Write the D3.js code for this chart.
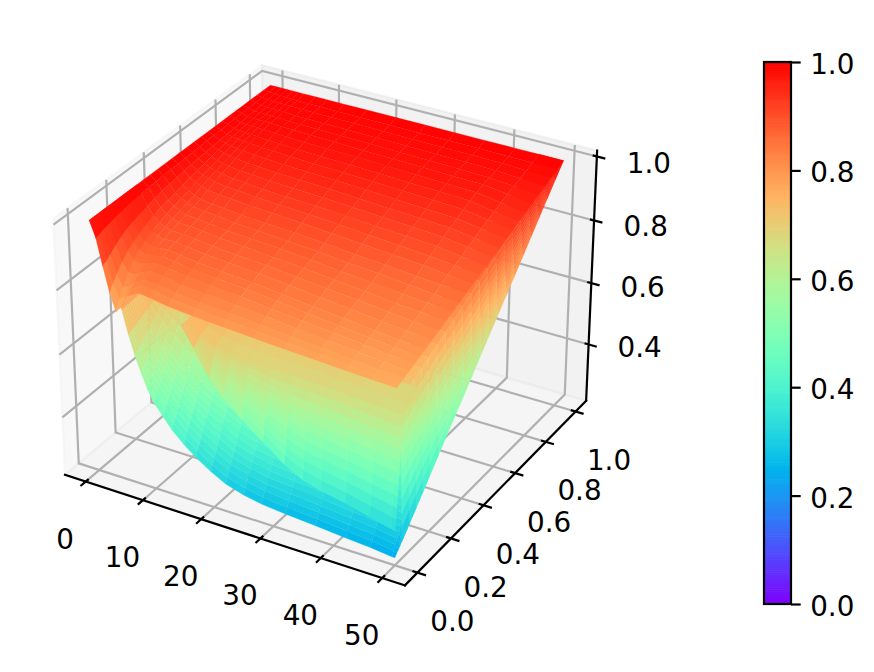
<!DOCTYPE html>
<html><head><meta charset="utf-8">
<script src="https://cdn.jsdelivr.net/npm/d3@7"></script>
<style>html,body{margin:0;padding:0;background:#fff}svg{display:block}text{font-family:"DejaVu Sans";font-size:27.8px;fill:#000}</style>
</head><body><svg id="c" width="874" height="672"></svg>
<script>
const xTicks=[0,10,20,30,40,50];
const yTicks=[0,0.2,0.4,0.6,0.8,1];
const zTicks=[0.4,0.6,0.8,1];
const cbarTicks=[0,0.2,0.4,0.6,0.8,1];
const xLim=[-3.646,53.646], yLim=[-0.0729,1.0729], zLim=[0.213,1.018];
const rainbowStops=["#8000ff","#6628fe","#4d4ffc","#3374f8","#1a96f3","#00b4ec","#1acee3","#33e3d9","#4df3ce","#66fcc2","#80ffb4","#99fca6","#b3f396","#cce385","#e6ce74","#ffb462","#ff964f","#ff743b","#ff4f28","#ff2814","#ff0000"];

// upper sheet
const sheetX=[0,1,2,3,4,5,6,8,10,13,17,22,27,32,37,42,46,50];
const sheetY=[0,.02,.04,.07,.1,.13,.16,.2,.24,.28,.32,.36,.4,.44,.48,.52,.56,.6,.64,.68,.72,.76,.8,.84,.88,.92,.96,1];
const sheetZ=[
[1,.95,.87,.795,.74,.765,.80,.82,.815,.805,.798,.792,.786,.78,.775,.77,.766,.763],
[1,.955,.88,.815,.77,.785,.812,.833,.828,.818,.811,.804,.797,.789,.784,.777,.772,.768],
[1,.96,.89,.835,.80,.805,.824,.842,.837,.828,.821,.814,.807,.798,.791,.783,.777,.772],
[1,.965,.905,.86,.83,.83,.84,.854,.849,.84,.833,.827,.818,.808,.801,.792,.785,.78],
[1,.97,.918,.878,.855,.85,.855,.864,.86,.851,.844,.837,.827,.817,.81,.80,.792,.787],
[1,.974,.928,.892,.872,.866,.867,.872,.868,.859,.853,.846,.837,.826,.817,.808,.80,.794],
[1,.977,.935,.903,.885,.878,.876,.879,.875,.866,.86,.853,.844,.833,.825,.815,.807,.801],
[1,.98,.943,.915,.898,.89,.885,.886,.882,.874,.868,.862,.853,.842,.834,.824,.817,.81],
[1,.982,.95,.924,.908,.90,.893,.892,.888,.881,.875,.869,.86,.85,.843,.833,.826,.82],
[1,.984,.955,.932,.917,.908,.90,.898,.895,.888,.883,.876,.868,.859,.851,.841,.836,.829],
[1,.985,.96,.938,.924,.915,.907,.904,.90,.893,.889,.884,.875,.866,.859,.851,.845,.839],
[1,.986,.964,.943,.93,.922,.914,.91,.907,.90,.896,.89,.883,.874,.868,.86,.853,.848],
[1,.987,.968,.948,.936,.928,.92,.915,.912,.906,.902,.897,.891,.882,.876,.868,.863,.858],
[1,.988,.971,.955,.945,.938,.932,.927,.924,.919,.915,.91,.903,.896,.89,.883,.875,.867],
[1,.989,.974,.96,.951,.946,.94,.934,.932,.927,.923,.919,.913,.906,.90,.893,.885,.877],
[1,.99,.976,.965,.957,.952,.948,.942,.939,.934,.931,.927,.922,.915,.911,.905,.895,.886],
[1,.991,.978,.97,.963,.958,.955,.95,.948,.943,.94,.936,.931,.925,.921,.915,.905,.896],
[1,.992,.98,.974,.969,.965,.962,.957,.955,.951,.948,.945,.94,.935,.931,.926,.915,.905],
[1,.993,.982,.978,.974,.971,.969,.965,.963,.96,.957,.954,.95,.945,.941,.937,.926,.915],
[1,.994,.984,.981,.979,.977,.976,.972,.971,.968,.965,.962,.959,.955,.951,.947,.936,.924],
[1,.995,.986,.984,.983,.982,.981,.978,.976,.973,.971,.969,.966,.962,.96,.957,.944,.934],
[1,.996,.988,.987,.987,.986,.985,.983,.982,.979,.978,.976,.974,.97,.968,.965,.954,.943],
[1,.996,.99,.99,.989,.989,.989,.987,.986,.984,.983,.98,.978,.976,.974,.972,.963,.953],
[1,.997,.992,.992,.991,.99,.99,.988,.987,.986,.985,.984,.982,.98,.978,.976,.97,.962],
[1,.998,.994,.993,.992,.992,.992,.989,.989,.988,.987,.986,.985,.984,.983,.981,.977,.972],
[1,.998,.996,.995,.994,.994,.994,.993,.992,.991,.991,.99,.989,.988,.988,.987,.984,.981],
[1,.999,.998,.997,.996,.995,.994,.994,.994,.993,.993,.993,.992,.992,.992,.991,.991,.991],
[1,1,1,1,1,1,1,1,1,1,1,1,1,1,1,1,1,1]
];

// middle layer: the rise along y = 0 that ends under the sheet
const midX=[15,17,19.5,22,25,28.5,32,35,38,42,46,49.5,50];
const midY=[0,.004,.008,.012,.016,.02,.024,.028,.032,.036,.04,.08,.15];
const midZ=[
[.76,.70,.62,.57,.52,.47,.42,.39,.375,.36,.34,.325,.32],
[.76,.702,.628,.582,.537,.491,.446,.419,.405,.391,.373,.359,.354],
[.76,.704,.636,.594,.553,.512,.472,.448,.435,.422,.405,.392,.388],
[.76,.706,.644,.606,.57,.533,.498,.476,.465,.453,.438,.426,.422],
[.76,.708,.652,.618,.586,.554,.524,.505,.495,.484,.47,.459,.456],
[.76,.71,.66,.63,.603,.575,.55,.534,.525,.515,.503,.493,.49],
[.76,.712,.668,.642,.619,.596,.576,.563,.555,.546,.535,.526,.524],
[.76,.714,.676,.654,.636,.617,.602,.592,.585,.577,.568,.56,.558],
[.76,.716,.684,.666,.652,.638,.628,.62,.615,.608,.60,.593,.592],
[.76,.718,.692,.678,.669,.659,.654,.649,.645,.639,.633,.627,.626],
[.76,.72,.70,.69,.685,.68,.68,.678,.675,.67,.665,.66,.66],
[.76,.73,.712,.702,.697,.692,.692,.69,.687,.682,.677,.672,.672],
[.76,.74,.725,.715,.71,.705,.705,.703,.70,.695,.69,.685,.685]
];

// bottom layer along y = 0
const frontX=[0,1,2,3,4,5,6,7,8,9,10,11.5,13,15,17,19.5,22,25,28,32,37,42,46,49.5,50];
const frontY=[0,.01,.02,.03,.04,.05,.06,.07,.08,.09,.1,.12,.14,.16,.18,.2,.25];
const frontZ=[
[1,.96,.91,.855,.80,.752,.68,.62,.57,.525,.49,.455,.42,.385,.355,.325,.30,.283,.272,.265,.258,.25,.245,.237,.237],
[1,.96,.91,.855,.80,.753,.683,.626,.579,.536,.503,.469,.435,.40,.371,.341,.316,.299,.288,.281,.274,.266,.26,.251,.245],
[1,.96,.91,.855,.80,.753,.686,.632,.588,.547,.515,.482,.449,.415,.386,.357,.332,.315,.304,.297,.29,.281,.275,.265,.252],
[1,.96,.91,.855,.80,.754,.689,.638,.597,.558,.528,.496,.464,.43,.402,.373,.348,.331,.32,.313,.306,.297,.29,.279,.26],
[1,.96,.91,.855,.80,.754,.692,.644,.606,.569,.54,.509,.478,.445,.417,.389,.364,.347,.336,.329,.322,.312,.305,.293,.268],
[1,.96,.91,.855,.80,.755,.695,.65,.615,.58,.553,.523,.493,.46,.433,.405,.38,.363,.352,.345,.338,.328,.32,.307,.275],
[1,.96,.91,.855,.80,.755,.698,.656,.624,.591,.565,.536,.507,.475,.448,.421,.396,.379,.368,.361,.354,.343,.335,.321,.283],
[1,.96,.91,.855,.80,.756,.701,.662,.633,.602,.578,.55,.522,.49,.464,.437,.412,.395,.384,.377,.37,.359,.35,.335,.29],
[1,.96,.91,.855,.80,.756,.704,.668,.642,.613,.59,.563,.536,.505,.479,.453,.428,.411,.40,.393,.386,.374,.365,.349,.298],
[1,.96,.91,.855,.80,.757,.707,.674,.651,.624,.603,.577,.551,.52,.495,.469,.444,.427,.416,.409,.402,.39,.38,.363,.306],
[1,.96,.91,.855,.80,.757,.71,.68,.66,.635,.615,.59,.565,.535,.51,.485,.46,.443,.432,.425,.418,.405,.395,.377,.313],
[1,.96,.91,.855,.80,.758,.716,.692,.678,.657,.64,.617,.594,.565,.541,.517,.492,.475,.464,.457,.45,.436,.425,.405,.328],
[1,.96,.91,.855,.80,.759,.722,.704,.696,.679,.665,.644,.623,.595,.572,.549,.524,.507,.496,.489,.482,.467,.455,.433,.344],
[1,.96,.91,.855,.80,.76,.728,.716,.714,.701,.69,.671,.652,.625,.603,.581,.556,.539,.528,.521,.514,.498,.485,.461,.359],
[1,.96,.91,.855,.80,.761,.734,.728,.732,.723,.715,.698,.681,.655,.634,.613,.588,.571,.56,.553,.546,.529,.515,.489,.374],
[1,.96,.91,.855,.80,.762,.74,.74,.75,.745,.74,.725,.71,.685,.665,.645,.62,.603,.592,.585,.578,.56,.545,.517,.39],
[1,.96,.91,.855,.80,.765,.755,.77,.795,.80,.803,.793,.783,.76,.743,.725,.70,.683,.672,.665,.658,.638,.62,.587,.428]
];

// strip along x = 50
const sideX=[46,49.5,49.55,49.6,49.65,49.7,49.75,49.8,49.85,49.9,49.95,50];
const sideY=[.04,.08,.12,.16,.2,.25,.3,.35,.4,.45,.5,.55,.6,.65,.7,.75,.8,.85,.9,.95,1];
const sideZ=[
[.712,.705,.661,.617,.574,.53,.486,.442,.399,.355,.312,.268],
[.724,.718,.676,.634,.592,.55,.508,.466,.424,.382,.34,.298],
[.736,.73,.69,.65,.61,.57,.53,.489,.449,.409,.369,.329],
[.748,.742,.704,.665,.627,.589,.551,.512,.474,.436,.397,.359],
[.76,.754,.718,.681,.645,.608,.572,.535,.499,.462,.426,.39],
[.775,.77,.736,.702,.667,.633,.599,.565,.531,.496,.462,.428],
[.79,.785,.753,.721,.689,.657,.626,.594,.562,.53,.498,.466],
[.805,.80,.77,.741,.711,.682,.652,.622,.593,.563,.534,.504],
[.82,.816,.789,.761,.734,.706,.679,.652,.624,.597,.569,.542],
[.835,.831,.806,.781,.756,.731,.706,.68,.655,.63,.605,.58],
[.85,.847,.824,.801,.779,.756,.733,.71,.687,.665,.642,.619],
[.865,.862,.842,.821,.801,.78,.76,.739,.719,.698,.678,.657],
[.88,.877,.859,.841,.822,.804,.786,.768,.75,.731,.713,.695],
[.895,.893,.877,.861,.845,.829,.813,.797,.781,.765,.749,.733],
[.91,.908,.894,.881,.867,.853,.84,.826,.812,.799,.785,.771],
[.925,.923,.912,.90,.889,.877,.866,.855,.843,.832,.82,.809],
[.94,.939,.93,.921,.912,.902,.893,.884,.875,.866,.856,.847],
[.955,.954,.947,.94,.934,.927,.92,.913,.906,.90,.893,.886],
[.97,.969,.964,.96,.955,.951,.946,.942,.937,.933,.928,.924],
[.985,.985,.983,.98,.978,.976,.973,.971,.969,.967,.964,.962],
[1,1,1,1,1,1,1,1,1,1,1,1]
];

const svg=d3.select("#c");
const sx=d3.scaleLinear().domain(xLim).range([-1,1]);
const sy=d3.scaleLinear().domain(yLim).range([-1,1]);
const sz=d3.scaleLinear().domain(zLim).range([-1,1]);
const color=d3.scaleLinear().domain(d3.range(21).map(d=>d/20)).range(rainbowStops).clamp(true);
const hx=.5715,hz=.4286,cx=330.2,cy=313.3,k=340.8,LW=2.2;
function view(x,y,z){
  const a=sx(x)*hx,b=sy(y)*hx,c=sz(z)*hz;
  const xv=.866*a+.5*b, yv=-.25*a+.433*b+.866*c, d=.433*a-.75*b+.5*c, f=10/(10-d);
  return {p:[cx+k*xv*f,cy-k*yv*f],d};
}
const P=(x,y,z)=>view(x,y,z).p;
const [x0,x1]=xLim,[y0,y1]=yLim,[z0,z1]=zLim;
const line=d3.line();
const pathOf=pts=>line(pts.map(q=>P(...q)));

const panes=[
 {pts:[[x0,y0,z0],[x0,y1,z0],[x0,y1,z1],[x0,y0,z1]],c:"#f2f2f2"},
 {pts:[[x0,y1,z0],[x1,y1,z0],[x1,y1,z1],[x0,y1,z1]],c:"#e6e6e6"},
 {pts:[[x0,y0,z0],[x1,y0,z0],[x1,y1,z0],[x0,y1,z0]],c:"#ececec"}
];
svg.append("g").selectAll("path").data(panes).join("path")
 .attr("d",d=>pathOf(d.pts)+"Z").attr("fill",d=>d.c).attr("fill-opacity",.5)
 .attr("stroke",d=>d.c).attr("stroke-opacity",.5).attr("stroke-width",LW).attr("stroke-linejoin","round");

const grid=[
 ...xTicks.map(v=>[[v,y0,z0],[v,y1,z0],[v,y1,z1]]),
 ...yTicks.map(v=>[[x1,v,z0],[x0,v,z0],[x0,v,z1]]),
 ...zTicks.map(v=>[[x0,y0,v],[x0,y1,v],[x1,y1,v]])
];
svg.append("g").selectAll("path").data(grid).join("path")
 .attr("d",pathOf).attr("fill","none").attr("stroke","#b0b0b0").attr("stroke-width",LW);

const axes=[[[x0,y0,z0],[x1,y0,z0]],[[x1,y0,z0],[x1,y1,z0]],[[x1,y1,z0],[x1,y1,z1]]];
svg.append("g").selectAll("path").data(axes).join("path")
 .attr("d",pathOf).attr("fill","none").attr("stroke","#000").attr("stroke-width",LW).attr("stroke-linecap","square");

const dy=y1-y0,dx=x1-x0;
const tickSegs=[
 ...xTicks.map(v=>[[v,y0+.014*dy,z0],[v,y0-.024*dy,z0]]),
 ...yTicks.map(v=>[[x1-.014*dx,v,z0],[x1+.024*dx,v,z0]]),
 ...zTicks.map(v=>[[x1-.012*dx,y1,v],[x1+.024*dx,y1,v]])
];
svg.append("g").selectAll("path").data(tickSegs).join("path")
 .attr("d",pathOf).attr("fill","none").attr("stroke","#000").attr("stroke-width",LW);

const labels=[
 ...xTicks.map(v=>{const p=P(v,y0,z0);return {t:String(v),x:p[0]-20.5,y:p[1]+57};}),
 ...yTicks.map(v=>{const p=P(x1,v,z0);return {t:d3.format(".1f")(v),x:p[0]+35-1.5*v,y:p[1]+48.5};}),
 ...zTicks.map(v=>{const p=P(x1,y1,v);return {t:d3.format(".1f")(v),x:p[0]+51+(v-.4)/.6,y:p[1]+3+4*(v-.4)/.6};})
];
svg.append("g").selectAll("text").data(labels).join("text")
 .attr("x",d=>d.x).attr("y",d=>d.y).attr("dy",".36em").attr("text-anchor","middle").text(d=>d.t);

function drawSurface(xs,ys,zs){
  const cells=[];
  for(let j=0;j<ys.length-1;j++)for(let i=0;i<xs.length-1;i++){
    const q=[[i,j],[i+1,j],[i+1,j+1],[i,j+1]].map(([a,b])=>view(xs[a],ys[b],zs[b][a]));
    const mean=d3.mean([zs[j][i],zs[j][i+1],zs[j+1][i+1],zs[j+1][i]]);
    cells.push({pts:q.map(o=>o.p),depth:d3.mean(q,o=>o.d),v:mean});
  }
  cells.sort((a,b)=>d3.ascending(a.depth,b.depth));
  svg.append("g").selectAll("polygon").data(cells).join("polygon")
   .attr("points",d=>d.pts.map(p=>p.join(",")).join(" "))
   .attr("fill",d=>color(d.v)).attr("stroke",d=>color(d.v)).attr("stroke-width",.3);
}
drawSurface(frontX,frontY,frontZ);
drawSurface(sideX,sideY,sideZ);
drawSurface(midX,midY,midZ);
drawSurface(sheetX,sheetY,sheetZ);

const yBar=d3.scaleLinear().domain([0,1]).range([604,62]);
const bar=svg.append("g");
const levels=d3.range(256).map(d=>d/256);
bar.selectAll("rect").data(levels).join("rect")
 .attr("x",764).attr("width",27)
 .attr("y",d=>yBar(d+1/256)).attr("height",d=>yBar(d)-yBar(d+1/256)+.6)
 .attr("fill",d=>color(d+.5/256));
bar.append("rect").attr("x",764).attr("y",62).attr("width",27).attr("height",542)
 .attr("fill","none").attr("stroke","#000").attr("stroke-width",LW);
const ax=svg.append("g").attr("transform","translate(791,0)")
 .call(d3.axisRight(yBar).tickValues(cbarTicks).tickFormat(d3.format(".1f")).tickSize(9.7).tickPadding(9.5));
ax.select(".domain").remove();
ax.selectAll("line").attr("stroke","#000").attr("stroke-width",LW);
ax.selectAll("text").style("font-family","DejaVu Sans").style("font-size","27.8px").attr("dy",".41em");
</script></body></html>
